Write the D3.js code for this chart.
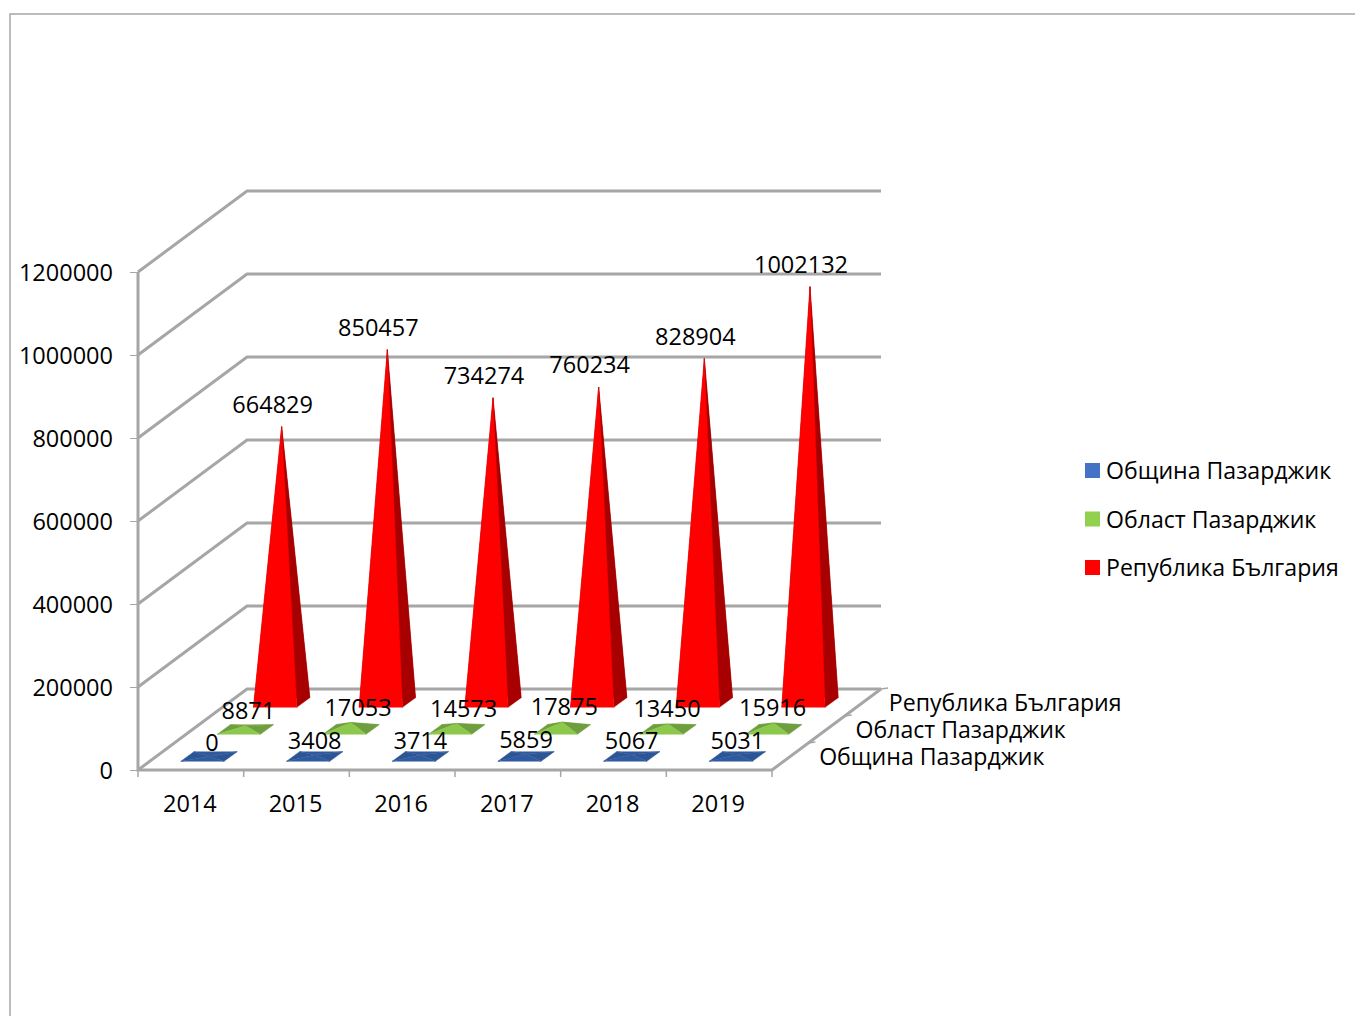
<!DOCTYPE html>
<html>
<head>
<meta charset="utf-8">
<script src="https://cdn.jsdelivr.net/npm/d3@7"></script>
<style>
  body { margin: 0; background: #fff; overflow: hidden; }
  svg { display: block; }
  text { font-family: "Open Sans", sans-serif; font-size: 23.5px; fill: #000; }
  .name { font-size: 23.1px; }
</style>
</head>
<body>
<script>
// data
const years = ['2014', '2015', '2016', '2017', '2018', '2019'];
const seriesNames = ['Община Пазарджик', 'Област Пазарджик', 'Република България'];
const obshtina = [0, 3408, 3714, 5859, 5067, 5031];
const oblast = [8871, 17053, 14573, 17875, 13450, 15916];
const republika = [664829, 850457, 734274, 760234, 828904, 1002132];
const yTicks = [0, 200000, 400000, 600000, 800000, 1000000, 1200000];

const WIDTH = 1355;
const HEIGHT = 1016;
const GRID = '#a6a6a6';

// the 3d box: how far the back wall sits from the front
const DEPTH_X = 109;
const DEPTH_Y = 81;

const values = [obshtina, oblast, republika];
const legendColors = ['#4472c4', '#92d050', '#ff0000'];
const frontColors = ['#2f5a9f', '#8cc84b', '#ff0000'];
const sideColors = ['#2c5596', '#6f9e3e', '#a80000'];
const backColors = ['#2f5a9f', '#6f9e3e', '#a80000'];

let svg = d3.select('body').append('svg')
    .attr('width', WIDTH)
    .attr('height', HEIGHT);

let x = d3.scaleBand().domain(years).range([138, 772]);
let y = d3.scaleLinear().domain([0, 1200000]).range([770, 272]);
let z = d3.scaleBand().domain(seriesNames).range([0, 1]);

// x in the front plane, t = depth from 0 to 1, v = value
function project(px, t, v) {
    return [px + t * DEPTH_X, y(v) - t * DEPTH_Y];
}

// outer frame, only top and left are on the picture
svg.append('path')
    .attr('d', d3.line()([[10, HEIGHT], [10, 14], [WIDTH, 14]]))
    .attr('fill', 'none')
    .attr('stroke', GRID)
    .attr('stroke-width', 1.5);

// walls
let walls = svg.append('g')
    .attr('fill', 'none')
    .attr('stroke', GRID)
    .attr('stroke-width', 3);

yTicks.forEach(function (t) {
    walls.append('path').attr('d', d3.line()([
        project(x.range()[0], 0, t),
        project(x.range()[0], 1, t),
        project(x.range()[1], 1, t)
    ]));
});

walls.append('path').attr('d', d3.line()([
    project(x.range()[0], 0, 1200000),
    project(x.range()[0], 0, 0),
    project(x.range()[1], 0, 0),
    project(x.range()[1], 1, 0)
]));

// small ticks along the floor
let ticks = svg.append('g').attr('stroke', GRID).attr('stroke-width', 1.5);

d3.range(years.length + 1).forEach(function (i) {
    let px = x.range()[0] + i * x.step();
    ticks.append('line')
        .attr('x1', px).attr('x2', px)
        .attr('y1', y(0)).attr('y2', y(0) + 7);
});

[1 / 3, 2 / 3, 1].forEach(function (t) {
    let p = project(x.range()[1], t, 0);
    ticks.append('line')
        .attr('x1', p[0]).attr('x2', p[0] + 7)
        .attr('y1', p[1]).attr('y2', p[1] - 1);
});

// y axis
let yAxis = d3.axisLeft(y)
    .tickValues(yTicks)
    .tickFormat(d3.format('d'))
    .tickSize(8)
    .tickPadding(17);

let yG = svg.append('g').attr('transform', 'translate(138,0)').call(yAxis);
yG.select('.domain').remove();
yG.selectAll('line').attr('stroke', GRID).attr('stroke-width', 1);
yG.selectAll('text').attr('dy', '0.37em');

// x axis
let xAxis = d3.axisBottom(x).tickSize(0).tickPadding(25);
let xG = svg.append('g').attr('transform', 'translate(0,' + y(0) + ')').call(xAxis);
xG.select('.domain').remove();
xG.selectAll('text').attr('dx', -1);

// pyramids, back row first so the front rows paint over them
const halfW = x.bandwidth() * 0.41 / 2;
const halfD = z.bandwidth() * 0.18;

let bars = svg.append('g');

d3.range(seriesNames.length - 1, -1, -1).forEach(function (s) {
    let t = z(seriesNames[s]) + z.bandwidth() / 2;
    values[s].forEach(function (v, i) {
        let cx = x(years[i]) + x.bandwidth() / 2;
        let fl = project(cx - halfW, t - halfD, 0);
        let fr = project(cx + halfW, t - halfD, 0);
        let br = project(cx + halfW, t + halfD, 0);
        let bl = project(cx - halfW, t + halfD, 0);
        let top = project(cx, t, v);
        let faces = [
            [[bl, br, top], backColors[s]],
            [[fl, bl, top], sideColors[s]],
            [[fr, br, top], sideColors[s]],
            [[fl, fr, top], frontColors[s]]
        ];
        faces.forEach(function (f) {
            bars.append('path')
                .attr('d', d3.line()(f[0]) + 'Z')
                .attr('fill', f[1])
                .attr('stroke', f[1])
                .attr('stroke-width', 0.4);
        });
    });
});

// value labels, the original has them hand placed so a few need a nudge
const labelOffset = [[0, -14], [3, -15], [-9, -22]];
const labelNudge = [
    [3, 0, 0, 0, 0, 0],
    [0, 4, 4, -1, -4, -4],
    [0, 0, 0, 0, 0, 0]
];
let labels = svg.append('g').attr('text-anchor', 'middle');

values.forEach(function (row, s) {
    let t = z(seriesNames[s]) + z.bandwidth() / 2;
    row.forEach(function (v, i) {
        let p = project(x(years[i]) + x.bandwidth() / 2, t, v);
        labels.append('text')
            .attr('x', p[0] + labelOffset[s][0] + labelNudge[s][i])
            .attr('y', p[1] + labelOffset[s][1])
            .attr('dy', '0.35em')
            .text(v);
    });
});

// depth axis names
const nameGap = [29, 29, 26];
seriesNames.forEach(function (name, s) {
    let p = project(x.range()[1], z(name) + z.bandwidth() / 2, 0);
    svg.append('text')
        .attr('class', 'name')
        .attr('x', p[0] + nameGap[s])
        .attr('y', p[1])
        .attr('dy', '0.35em')
        .text(name);
});

// legend
let legendY = d3.scalePoint().domain(seriesNames).range([471, 568]);
let legend = svg.append('g');

seriesNames.forEach(function (name, s) {
    legend.append('rect')
        .attr('x', 1085)
        .attr('y', legendY(name) - 8)
        .attr('width', 15)
        .attr('height', 15)
        .attr('fill', legendColors[s]);
    legend.append('text')
        .attr('class', 'name')
        .attr('x', 1106)
        .attr('y', legendY(name))
        .attr('dy', '0.35em')
        .text(name);
});
</script>
</body>
</html>
